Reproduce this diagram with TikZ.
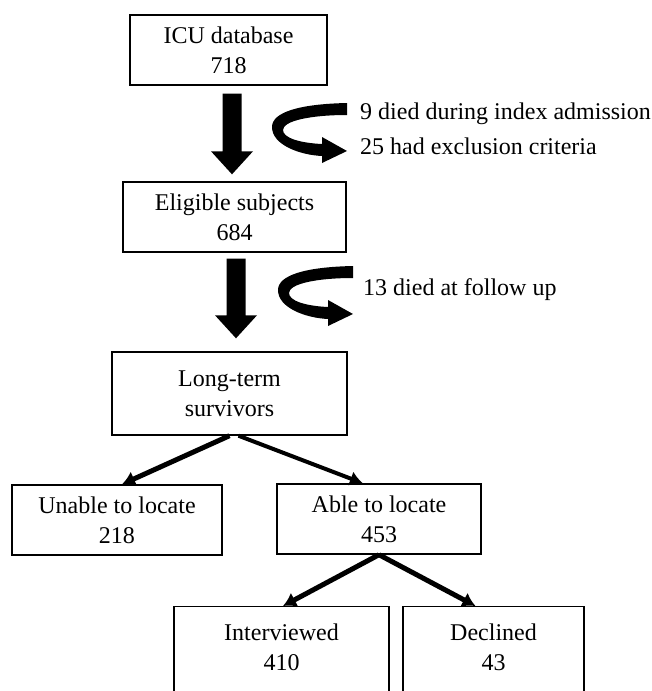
\documentclass[tikz,border=0pt]{standalone}
\usepackage{fontspec}
\setmainfont{Liberation Serif}
\usetikzlibrary{arrows.meta,calc}
\newcommand\myBigDown[2]{%
  \fill[black] let \p1=#1, \p2=#2 in
    (\x1-9.5pt,\y1) -- (\x1+9.5pt,\y1) -- (\x1+9.5pt,\y2+23pt) -- (\x1+21pt,\y2+23pt)
    -- (\x1,\y2) -- (\x1-21pt,\y2+23pt) -- (\x1-9.5pt,\y2+23pt) -- cycle;}
\newcommand\myRibbon[2]{%
  \begin{scope}[shift={(#1,#2)}]
    \fill[black] (347,103) .. controls (300,104) and (272,112) .. (272,127)
      .. controls (272,145) and (300,155) .. (322,156) -- (322,163) -- (347,151)
      -- (322,137) -- (322,144) .. controls (300,143) and (283,138) .. (283,130)
      .. controls (283,121) and (310,115) .. (347,115) -- cycle;
  \end{scope}}
\begin{document}
\begin{tikzpicture}[x=1pt,y=-1pt,
  box/.style={draw=black, line width=1.4pt, inner sep=0pt, align=center,
    font=\fontsize{24}{30}\selectfont},
  boxtext/.style={inner sep=0pt, align=center, font=\fontsize{24}{30}\selectfont},
  note/.style={inner sep=0pt, anchor=base west, font=\fontsize{24}{30}\selectfont},
  conn/.style={line width=5pt, -{Latex[length=13pt,width=16pt]}},
  connthin/.style={line width=4pt, -{Latex[length=13pt,width=15pt]}}]
\useasboundingbox (0,0) rectangle (652,691);
\clip (0,0) rectangle (652,691);

\node[box, minimum width=197pt, minimum height=70pt] (icu) at (228.5,50) {ICU database\\718};
\node[box, minimum width=223pt, minimum height=70pt] (elig) at (234.5,217) {Eligible subjects\\684};
\node[box, minimum width=235pt, minimum height=83pt] (lts) at (229.5,393.5) {Long-term\\survivors};
\node[box, minimum width=210pt, minimum height=70pt] (un) at (117,520) {Unable to locate\\218};
\node[box, minimum width=204pt, minimum height=70pt] (ab) at (379,519) {Able to locate\\453};
\node[box, minimum width=215pt, minimum height=130pt, anchor=north] (int) at (281.5,606) {};
\node[boxtext] (intt) at (281.5,647) {Interviewed\\410};
\node[box, minimum width=181pt, minimum height=130pt, anchor=north] (dec) at (493.5,606) {};
\node[boxtext] (dect) at (493.5,647) {Declined\\43};

\node[note] (n1a) at (360,119) {9 died during index admission};
\node[note] (n1b) at (360,154) {25 had exclusion criteria};
\node[note] (n2) at (363,295) {13 died at follow up};

\myBigDown{($(icu.south)+(3.5,8)$)}{($(elig.north)+(-2.5,-7)$)}
\myBigDown{($(elig.south)+(1.5,6)$)}{($(lts.north)+(6.5,-13)$)}
\myRibbon{0}{0}
\myRibbon{6}{163}

\draw[conn] (lts.south) -- ([xshift=5pt]un.north);
\draw[connthin] ([xshift=9pt]lts.south) -- ([xshift=-16pt]ab.north);
\draw[conn] (ab.south) -- ([xshift=1.5pt]int.north);
\draw[conn] (ab.south) -- ([xshift=-18pt]dec.north);
\end{tikzpicture}
\end{document}
